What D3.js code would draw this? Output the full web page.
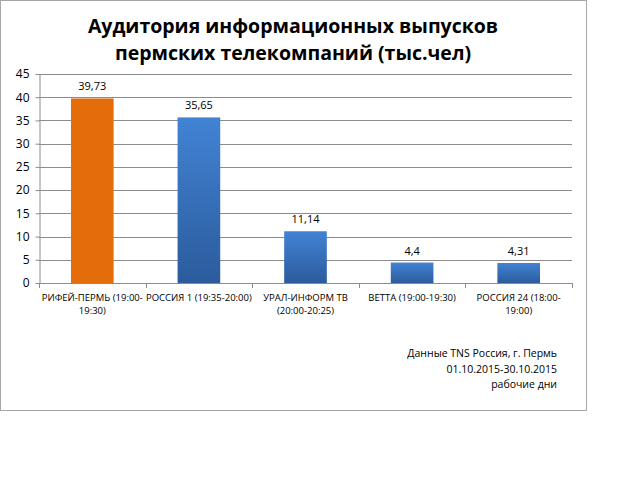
<!DOCTYPE html>
<meta charset="utf-8">
<script src="https://d3js.org/d3.v7.min.js"></script>
<style>
  body { margin: 0; background: #fff; }
  text { font-family: "Open Sans", "Noto Sans", sans-serif; fill: #000; }
</style>
<div id="chart"></div>
<script>
  // data
  const titleLines = ["Аудитория информационных выпусков", "пермских телекомпаний (тыс.чел)"];
  const channels = [
    ["РИФЕЙ-ПЕРМЬ (19:00-", "19:30)"],
    ["РОССИЯ 1 (19:35-20:00)"],
    ["УРАЛ-ИНФОРМ ТВ", "(20:00-20:25)"],
    ["ВЕТТА (19:00-19:30)"],
    ["РОССИЯ 24 (18:00-", "19:00)"]
  ];
  const audience = [39.73, 35.65, 11.14, 4.4, 4.31];
  const yTicks = [0, 5, 10, 15, 20, 25, 30, 35, 40, 45];
  const noteLines = ["Данные TNS Россия, г. Пермь", "01.10.2015-30.10.2015", "рабочие дни"];

  const W = 640, H = 479;
  const plot = { left: 39, right: 572, top: 74, bottom: 283 };

  const svg = d3.select("#chart").append("svg")
    .attr("width", W).attr("height", H);

  // blue bar gradient
  const defs = svg.append("defs");
  const grad = defs.append("linearGradient")
    .attr("id", "blueGrad").attr("x1", 0).attr("y1", 0).attr("x2", 0).attr("y2", 1);
  grad.append("stop").attr("offset", "0%").attr("stop-color", "#4283d4");
  grad.append("stop").attr("offset", "100%").attr("stop-color", "#2b5b9c");

  // chart frame
  svg.append("rect")
    .attr("x", 0.5).attr("y", 0.5)
    .attr("width", 586).attr("height", 410)
    .attr("fill", "#fff").attr("stroke", "#a6a6a6");

  // title
  svg.append("g").selectAll("text")
    .data(titleLines).join("text")
    .attr("x", 293)
    .attr("y", (d, i) => 33 + i * 27)
    .attr("text-anchor", "middle")
    .style("font-size", "19.5px")
    .style("font-weight", "bold")
    .text(d => d);

  const idx = d3.range(audience.length);
  const x = d3.scaleBand()
    .domain(idx)
    .range([plot.left, plot.right])
    .paddingInner(0.6)
    .paddingOuter(0.3);

  const y = d3.scaleLinear()
    .domain([0, 45])
    .range([plot.bottom, plot.top]);

  // gridlines
  svg.append("g")
    .selectAll("line")
    .data(yTicks.filter(d => d > 0)).join("line")
    .attr("x1", plot.left).attr("x2", plot.right)
    .attr("y1", d => Math.round(y(d)) + 0.5)
    .attr("y2", d => Math.round(y(d)) + 0.5)
    .attr("stroke", "#8c8c8c");

  // y axis
  const yAxis = svg.append("g")
    .attr("transform", `translate(${plot.left + 0.5},0)`)
    .call(d3.axisLeft(y).tickValues(yTicks).tickSize(4).tickSizeOuter(0).tickPadding(6));
  yAxis.select(".domain").attr("stroke", "#8c8c8c");
  yAxis.selectAll(".tick line").attr("stroke", "#8c8c8c");
  yAxis.selectAll(".tick text")
    .style("font-size", "12px")
    .style("font-family", "'Open Sans', sans-serif")
    .attr("fill", "#000");

  // bars
  svg.append("g").selectAll("rect")
    .data(audience).join("rect")
    .attr("x", (d, i) => x(i))
    .attr("width", x.bandwidth())
    .attr("y", d => y(d))
    .attr("height", d => y(0) - y(d))
    .attr("fill", (d, i) => i === 0 ? "#e46c0a" : "url(#blueGrad)");

  // value labels
  svg.append("g").selectAll("text")
    .data(audience).join("text")
    .attr("x", (d, i) => x(i) + x.bandwidth() / 2)
    .attr("y", d => y(d) - 8)
    .attr("text-anchor", "middle")
    .style("font-size", "11px")
    .text(d => String(d).replace(".", ","));

  // x axis line and tick marks between categories
  svg.append("line")
    .attr("x1", plot.left).attr("x2", plot.right)
    .attr("y1", plot.bottom + 0.5).attr("y2", plot.bottom + 0.5)
    .attr("stroke", "#8c8c8c");
  const bounds = d3.range(audience.length + 1)
    .map(i => plot.left + i * x.step());
  svg.append("g").selectAll("line")
    .data(bounds).join("line")
    .attr("x1", d => Math.round(d) + 0.5).attr("x2", d => Math.round(d) + 0.5)
    .attr("y1", plot.bottom).attr("y2", plot.bottom + 5)
    .attr("stroke", "#8c8c8c");

  // category labels
  const cat = svg.append("g").selectAll("text")
    .data(channels).join("text")
    .attr("text-anchor", "middle")
    .style("font-size", "9.5px");
  cat.selectAll("tspan")
    .data((d, i) => d.map(line => ({ line, i })))
    .join("tspan")
    .attr("x", d => x(d.i) + x.bandwidth() / 2)
    .attr("y", (d, j) => 301 + j * 13)
    .text(d => d.line);

  // source note
  svg.append("g").selectAll("text")
    .data(noteLines).join("text")
    .attr("x", 557)
    .attr("y", (d, i) => 357 + i * 15.5)
    .attr("text-anchor", "end")
    .style("font-size", "10.5px")
    .text(d => d);
</script>
